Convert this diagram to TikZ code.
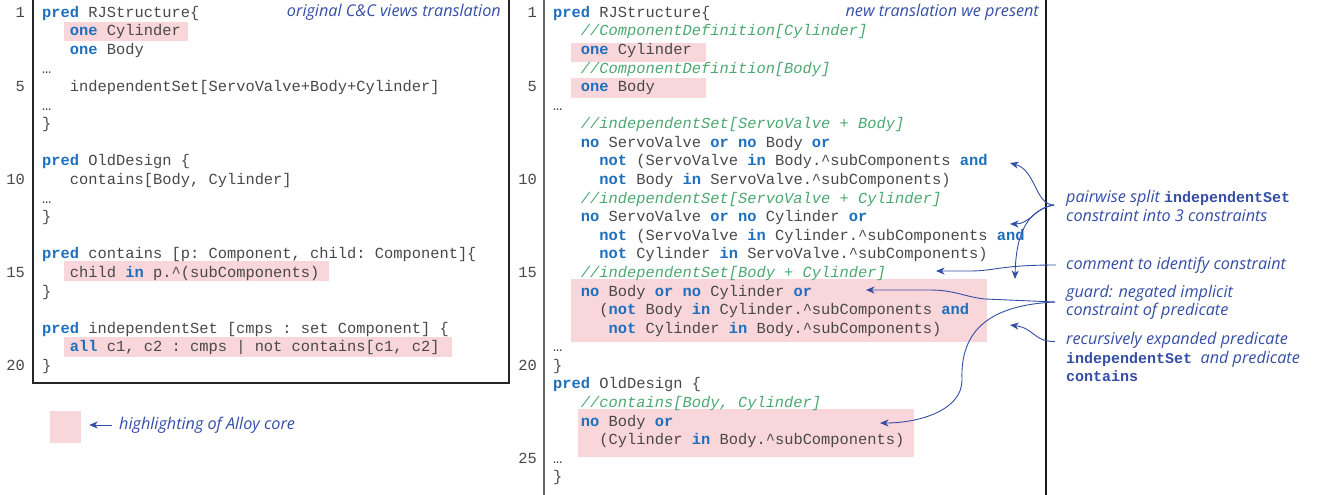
\documentclass[tikz,border=0pt]{standalone}
\usepackage{fontspec}
\setmonofont{Liberation Mono}
\newfontfamily\annfam{Open Sans}
\usetikzlibrary{arrows.meta,calc}
\definecolor{kwblue}{RGB}{30,112,190}
\definecolor{codegray}{RGB}{72,72,72}
\definecolor{cmtgreen}{RGB}{76,168,112}
\definecolor{hlpink}{RGB}{249,214,218}
\definecolor{annblue}{RGB}{52,78,165}
\newcommand\codefont{\fontsize{15.4}{18.58}\selectfont\ttfamily}
\newcommand\annfont{\fontsize{16.2}{18.3}\selectfont\annfam\itshape}
\newcommand\kw[1]{{\bfseries\color{kwblue}#1}}
\newcommand\cmt[1]{{\itshape\color{cmtgreen}#1}}
\newcommand\amono[1]{{\fontsize{15}{18.3}\selectfont\ttfamily\bfseries\upshape #1}}
\newcommand\crt{\textasciicircum}
\newcommand\cl[4]{\node[code] (#1) at (#2,{ly(#3)}) {#4};}
\newcommand\lnm[3]{\node[lnum] (#1) at (#2,{ly(#3)}) {#3};}
\begin{document}
\begin{tikzpicture}[x=1pt,y=-1pt,
  declare function={ly(\n)=17.3+(\n-1)*18.58;},
  code/.style={anchor=base west,inner sep=0pt,font=\codefont,text=codegray},
  lnum/.style={anchor=base east,inner sep=0pt,font=\codefont,text=codegray},
  ann/.style={inner sep=0pt,font=\annfont,text=annblue,align=left},
  hl/.style={fill=hlpink,draw=none},
  annarrow/.style={draw=annblue,line width=0.9pt,-{Stealth[length=8.5pt,width=7pt,inset=2.5pt]}},
  frame/.style={draw=black!85,line width=1.5pt}]
\useasboundingbox (0,0) rectangle (1320,495);
% highlights
\fill[hlpink] (64,22) rectangle (188,41);
\fill[hlpink] (64,261) rectangle (329,281);
\fill[hlpink] (64,337) rectangle (452,357);
\fill[hlpink] (571,43) rectangle (706,62);
\fill[hlpink] (571,78) rectangle (706,98);
\fill[hlpink] (571,279) rectangle (987,342);
\fill[hlpink] (578,409) rectangle (914,457);
% frames
\draw[frame] (33,0) -- (33,383) -- (509,383) -- (509,0);
\draw[draw=black!60,line width=1.8pt] (544,0) -- (544,495);
\draw[draw=black!90,line width=1.2pt] (1046,0) -- (1046,495);
% left panel
\lnm{lA}{25}{1}\lnm{lB}{25}{5}\lnm{lC}{25}{10}\lnm{lD}{25}{15}\lnm{lE}{25}{20}
\cl{l1}{42}{1}{\kw{pred} RJStructure\{}
\cl{l2}{69.75}{2}{\kw{one} Cylinder}
\cl{l3}{69.75}{3}{\kw{one} Body}
\cl{l4}{42}{4}{…}
\cl{l5}{69.75}{5}{independentSet[ServoValve+Body+Cylinder]}
\cl{l6}{42}{6}{…}
\cl{l7}{42}{7}{\}}
\cl{l9}{42}{9}{\kw{pred} OldDesign \{}
\cl{l10}{69.75}{10}{contains[Body, Cylinder]}
\cl{l11}{42}{11}{…}
\cl{l12}{42}{12}{\}}
\cl{l14}{42}{14}{\kw{pred} contains [p: Component, child: Component]\{}
\cl{l15}{69.75}{15}{child \kw{in} p.\crt(subComponents)}
\cl{l16}{42}{16}{\}}
\cl{l18}{42}{18}{\kw{pred} independentSet [cmps : set Component] \{}
\cl{l19}{69.75}{19}{\kw{all} c1, c2 : cmps | not contains[c1, c2]}
\cl{l20}{42}{20}{\}}
\node[ann,anchor=east] (orig) at (501,12) {original C\&C views translation};
% right panel
\lnm{rA}{537}{1}\lnm{rB}{537}{5}\lnm{rC}{537}{10}\lnm{rD}{537}{15}\lnm{rE}{537}{20}\lnm{rF}{537}{25}
\cl{r1}{553}{1}{\kw{pred} RJStructure\{}
\cl{r2}{580.75}{2}{\cmt{//ComponentDefinition[Cylinder]}}
\cl{r3}{580.75}{3}{\kw{one} Cylinder}
\cl{r4}{580.75}{4}{\cmt{//ComponentDefinition[Body]}}
\cl{r5}{580.75}{5}{\kw{one} Body}
\cl{r6}{553}{6}{…}
\cl{r7}{580.75}{7}{\cmt{//independentSet[ServoValve + Body]}}
\cl{r8}{580.75}{8}{\kw{no} ServoValve \kw{or} \kw{no} Body \kw{or}}
\cl{r9}{599.25}{9}{\kw{not} (ServoValve \kw{in} Body.\crt subComponents \kw{and}}
\cl{r10}{599.25}{10}{\kw{not} Body \kw{in} ServoValve.\crt subComponents)}
\cl{r11}{580.75}{11}{\cmt{//independentSet[ServoValve + Cylinder]}}
\cl{r12}{580.75}{12}{\kw{no} ServoValve \kw{or} \kw{no} Cylinder \kw{or}}
\cl{r13}{599.25}{13}{\kw{not} (ServoValve \kw{in} Cylinder.\crt subComponents \kw{and}}
\cl{r14}{599.25}{14}{\kw{not} Cylinder \kw{in} ServoValve.\crt subComponents)}
\cl{r15}{580.75}{15}{\cmt{//independentSet[Body + Cylinder]}}
\cl{r16}{580.75}{16}{\kw{no} Body \kw{or} \kw{no} Cylinder \kw{or}}
\cl{r17}{599.25}{17}{(\kw{not} Body \kw{in} Cylinder.\crt subComponents \kw{and}}
\cl{r18}{608.5}{18}{\kw{not} Cylinder \kw{in} Body.\crt subComponents)}
\cl{r19}{553}{19}{…}
\cl{r20}{553}{20}{\}}
\cl{r21}{553}{21}{\kw{pred} OldDesign \{}
\cl{r22}{580.75}{22}{\cmt{//contains[Body, Cylinder]}}
\cl{r23}{580.75}{23}{\kw{no} Body \kw{or}}
\cl{r24}{599.25}{24}{(Cylinder \kw{in} Body.\crt subComponents)}
\cl{r25}{553}{25}{…}
\cl{r26}{553}{26}{\}}
\node[ann,anchor=east] (newtr) at (1039,12) {new translation we present};
% annotations
\node[ann,anchor=west] (pair) at (1066,206) {pairwise split \amono{independentSet}\\constraint into 3 constraints};
\node[ann,anchor=west] (comm) at (1066,265) {comment to identify constraint};
\node[ann,anchor=west] (guard) at (1066,302) {guard: negated implicit\\constraint of predicate};
\node[ann,anchor=west] (rec) at (1066,357) {recursively expanded predicate\\\amono{independentSet}\ \ and predicate\\\amono{contains}};
% legend
\node[hl,minimum width=31pt,minimum height=32pt,inner sep=0pt] (legbox) at (65.5,427) {};
\node[ann,anchor=west] (legtext) at (119,425) {highlighting of Alloy core};
\draw[annarrow] ($(legtext.west)+(-7,0)$) -- ($(legbox.east)+(8,-2)$);
% arrow targets
\coordinate (t1) at (1010,163);
\coordinate (t2) at (1010,224);
\coordinate (t3) at (1015,279);
\coordinate (t4) at (936,271);
\coordinate (t5) at (866,290);
\coordinate (t6) at (880,423);
\coordinate (t7) at (1010,325);
\coordinate (pS) at ($(pair.west)+(-12,-1)$);
\draw[annarrow] (pS) .. controls (1035,205) and (1036,170) .. (t1);
\draw[annarrow] (pS) .. controls (1036,207) and (1030,224) .. (t2);
\draw[annarrow] (pS) .. controls (1028,210) and (1016,232) .. (t3);
\draw[annarrow] ($(comm.west)+(-10,0)$) .. controls (1000,265) and (995,271) .. (970,271) -- (t4);
\draw[annarrow] ($(guard.west)+(-11,0)$) -- (985,299) .. controls (965,297) and (955,290) .. (930,290) -- (t5);
\draw[annarrow] ($(guard.west)+(-11,0)$) .. controls (990,305) and (960,330) .. (962,380) .. controls (962,410) and (920,423) .. (t6);
\draw[annarrow] ($(rec.west)+(-11,-15.5)$) .. controls (1034,342) and (1034,328) .. (t7);
\end{tikzpicture}
\end{document}
